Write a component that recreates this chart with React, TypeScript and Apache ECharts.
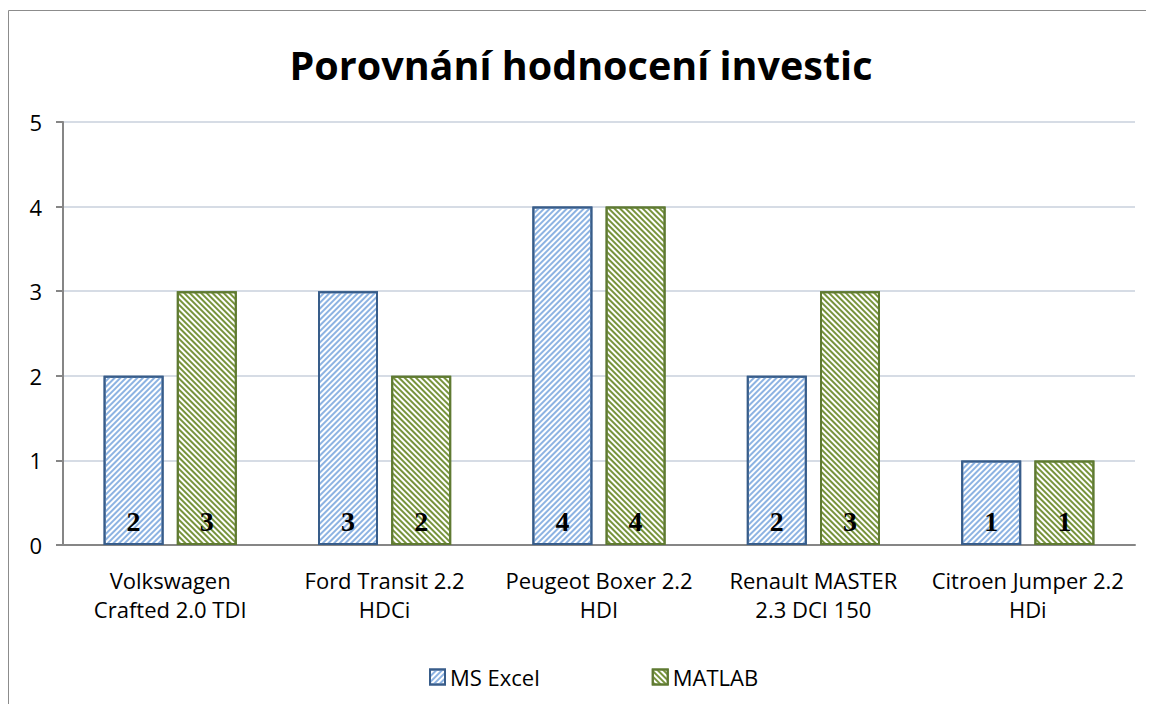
import React, { useEffect, useRef } from "react";
import * as echarts from "echarts";

const categories = [
  "Volkswagen\nCrafted 2.0 TDI",
  "Ford Transit 2.2\nHDCi",
  "Peugeot Boxer 2.2\nHDI",
  "Renault MASTER\n2.3 DCI 150",
  "Citroen Jumper 2.2\nHDi",
];
const excelValues = [2, 3, 4, 2, 1];
const matlabValues = [3, 2, 4, 3, 1];
const yTicks = { min: 0, max: 5, interval: 1 };

export default function App() {
  const ref = useRef<HTMLDivElement>(null);
  useEffect(() => {
    if (!ref.current) return;
    const chart = echarts.init(ref.current, undefined, { renderer: "svg" });
    const font = "'Open Sans', 'Noto Sans', sans-serif";
    const label = {
      show: true,
      position: "insideBottom",
      distance: 10,
      fontFamily: "'Liberation Serif', 'DejaVu Serif', serif",
      fontWeight: "bold",
      fontSize: 28,
      color: "#000",
    };
    chart.setOption({
      animation: false,
      title: {
        text: "Porovnání hodnocení investic",
        left: "center",
        top: 32,
        textStyle: { fontFamily: font, fontWeight: "bold", fontSize: 39.5, color: "#000" },
      },
      graphic: [
        { type: "line", shape: { x1: 0.5, y1: 2.5, x2: 1146, y2: 2.5 }, style: { stroke: "#8c8c8c", lineWidth: 1 } },
        { type: "line", shape: { x1: 0.5, y1: 2.5, x2: 0.5, y2: 696 }, style: { stroke: "#8c8c8c", lineWidth: 1 } },
      ],
      legend: {
        top: 653,
        left: 416,
        itemGap: 112,
        itemTextGap: 8,
        itemWidth: 15,
        itemHeight: 15,
        icon: "rect",
        textStyle: { fontFamily: font, fontSize: 22, color: "#000" },
        data: ["MS Excel", "MATLAB"],
      },
      grid: { left: 55, right: 19, top: 114, bottom: 159 },
      xAxis: {
        type: "category",
        data: categories,
        axisLine: { lineStyle: { color: "#868686", width: 2 } },
        axisTick: { show: false },
        axisLabel: {
          fontFamily: font,
          fontSize: 22,
          color: "#000",
          lineHeight: 29,
          margin: 20,
          interval: 0,
        },
      },
      yAxis: {
        type: "value",
        min: yTicks.min,
        max: yTicks.max,
        interval: yTicks.interval,
        axisLine: { show: true, lineStyle: { color: "#868686", width: 2 } },
        axisTick: { show: true, length: 7, lineStyle: { color: "#868686", width: 2 } },
        splitLine: { lineStyle: { color: "#d6dce5", width: 2 } },
        axisLabel: { fontFamily: font, fontSize: 22, color: "#000", margin: 21 },
      },
      series: [
        {
          name: "MS Excel",
          type: "bar",
          data: excelValues,
          barWidth: 60,
          barGap: "22%",
          itemStyle: {
            color: "#ffffff",
            borderColor: "#385d8a",
            borderWidth: 2,
            decal: {
              symbol: "rect",
              symbolSize: 1,
              color: "#8db3e2",
              dashArrayX: [1, 0],
              dashArrayY: [2, 2],
              rotation: -Math.PI / 4,
            },
          },
          label,
        },
        {
          name: "MATLAB",
          type: "bar",
          data: matlabValues,
          barWidth: 60,
          itemStyle: {
            color: "#ffffff",
            borderColor: "#5f7a32",
            borderWidth: 2,
            decal: {
              symbol: "rect",
              symbolSize: 1,
              color: "#77933c",
              dashArrayX: [1, 0],
              dashArrayY: [2, 2],
              rotation: Math.PI / 4,
            },
          },
          label,
        },
      ],
    });
    return () => chart.dispose();
  }, []);
  return <div ref={ref} style={{ width: 1146, height: 696 }} />;
}
